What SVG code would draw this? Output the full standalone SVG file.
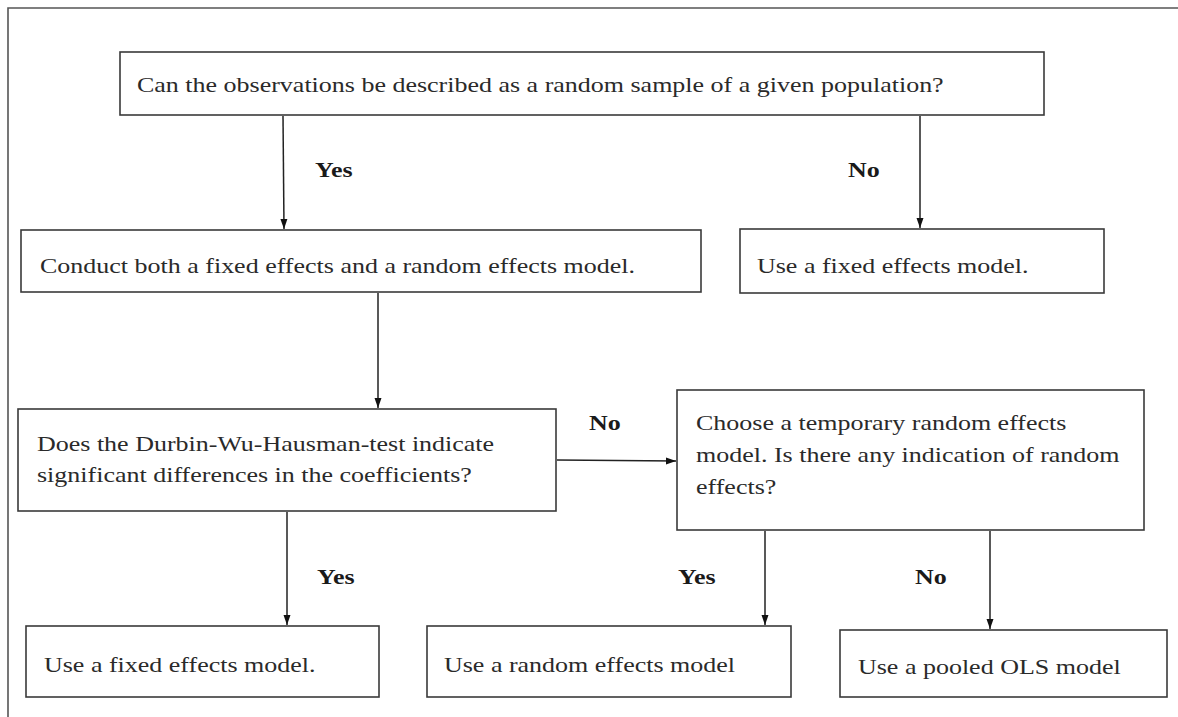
<svg xmlns="http://www.w3.org/2000/svg" width="1178" height="717" viewBox="0 0 1178 717">
<style>
.box{fill:#fff;stroke:#3a3a3a;stroke-width:1.6}
.t{font-family:"Liberation Serif","Times New Roman",serif;font-size:26px;fill:#2a2a2a}
.lb{font-family:"Liberation Serif","Times New Roman",serif;font-size:26px;font-weight:bold;fill:#1a1a1a}
.c{fill:none;stroke:#222;stroke-width:1.5}
</style>
<defs>
<marker id="ah" markerUnits="userSpaceOnUse" markerWidth="10" markerHeight="10" viewBox="0 0 10 10" refX="10" refY="5" orient="auto">
<path d="M0,1.5 L10,5 L0,8.5 Z" fill="#111"/>
</marker>
</defs>
<rect width="1178" height="717" fill="#fff"/>
<path d="M8,717 V8 H1178" fill="none" stroke="#555" stroke-width="1.6"/>

<g id="connectors">
<line class="c" x1="283" y1="116" x2="284" y2="229" marker-end="url(#ah)"/>
<line class="c" x1="920" y1="116" x2="920" y2="228" marker-end="url(#ah)"/>
<line class="c" x1="378" y1="293" x2="378" y2="408" marker-end="url(#ah)"/>
<line class="c" x1="557" y1="460" x2="676" y2="461" marker-end="url(#ah)"/>
<line class="c" x1="287" y1="512" x2="287" y2="625" marker-end="url(#ah)"/>
<line class="c" x1="765" y1="531" x2="765" y2="625" marker-end="url(#ah)"/>
<line class="c" x1="990" y1="531" x2="990" y2="629" marker-end="url(#ah)"/>
<text class="lb" transform="translate(315,177) scale(1,0.77)">Yes</text>
<text class="lb" transform="translate(848,177) scale(1,0.77)">No</text>
<text class="lb" transform="translate(589,430) scale(1,0.77)">No</text>
<text class="lb" transform="translate(317,584) scale(1,0.77)">Yes</text>
<text class="lb" transform="translate(678,584) scale(1,0.77)">Yes</text>
<text class="lb" transform="translate(915,584) scale(1,0.77)">No</text>
</g>

<g id="n-sample">
<rect class="box" x="120" y="52" width="924" height="63"/>
<text class="t" transform="translate(137,92) scale(1,0.77)">Can the observations be described as a random sample of a given population?</text>
</g>
<g id="n-conduct">
<rect class="box" x="21" y="230" width="680" height="62"/>
<text class="t" transform="translate(40,273) scale(1,0.77)">Conduct both a fixed effects and a random effects model.</text>
</g>
<g id="n-fixed1">
<rect class="box" x="740" y="229" width="364" height="64"/>
<text class="t" transform="translate(757,273) scale(1,0.77)">Use a fixed effects model.</text>
</g>
<g id="n-hausman">
<rect class="box" x="18" y="409" width="538" height="102"/>
<text class="t" transform="translate(37,451) scale(1,0.77)">Does the Durbin-Wu-Hausman-test indicate</text>
<text class="t" transform="translate(37,482) scale(1,0.77)">significant differences in the coefficients?</text>
</g>
<g id="n-temporary">
<rect class="box" x="677" y="390" width="467" height="140"/>
<text class="t" transform="translate(696,430) scale(1,0.77)">Choose a temporary random effects</text>
<text class="t" transform="translate(696,462) scale(1,0.77)">model. Is there any indication of random</text>
<text class="t" transform="translate(696,494) scale(1,0.77)">effects?</text>
</g>
<g id="n-fixed2">
<rect class="box" x="26" y="626" width="353" height="71"/>
<text class="t" transform="translate(44,672) scale(1,0.77)">Use a fixed effects model.</text>
</g>
<g id="n-random">
<rect class="box" x="427" y="626" width="364" height="71"/>
<text class="t" transform="translate(444,672) scale(1,0.77)">Use a random effects model</text>
</g>
<g id="n-pooled">
<rect class="box" x="840" y="630" width="327" height="67"/>
<text class="t" transform="translate(858,674) scale(1,0.77)">Use a pooled OLS model</text>
</g>
</svg>
